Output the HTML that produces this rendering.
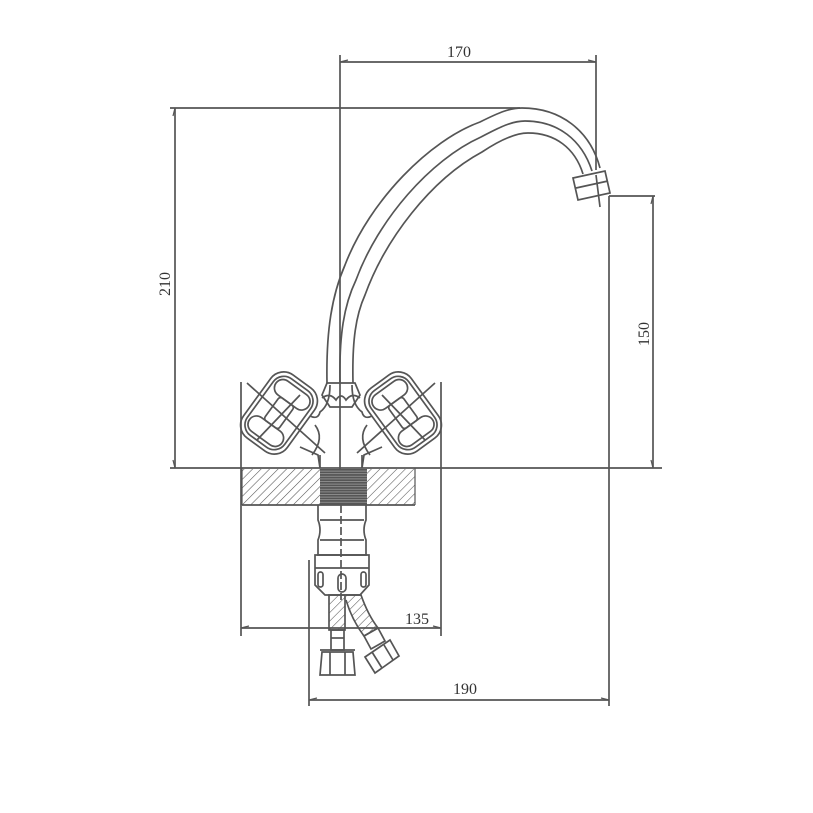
<!DOCTYPE html>
<html><head><meta charset="utf-8"><style>
html,body{margin:0;padding:0;background:#fff;}
svg{display:block;}
text{font-family:"Liberation Serif",serif;font-size:16px;fill:#333;}
</style></head><body>
<svg width="813" height="813" viewBox="0 0 813 813" xmlns="http://www.w3.org/2000/svg">
<defs>
<pattern id="h" width="6" height="6" patternUnits="userSpaceOnUse" patternTransform="rotate(45)">
<line x1="0" y1="0" x2="0" y2="6" stroke="#555" stroke-width="1.1"/>
</pattern>
<pattern id="th" width="4" height="2.6" patternUnits="userSpaceOnUse">
<rect width="4" height="2.6" fill="#555"/><line x1="0" y1="0.5" x2="4" y2="0.5" stroke="#999" stroke-width="0.8"/>
</pattern>
</defs>
<g stroke="#555" stroke-width="1.7" fill="none">
<line x1="340" y1="62" x2="596" y2="62"/>
<line x1="340" y1="55" x2="340" y2="470"/>
<line x1="596" y1="55" x2="596" y2="170"/>
<path d="M596 175 L600 207"/>
<line x1="175" y1="108" x2="175" y2="468"/>
<line x1="170" y1="108" x2="520" y2="108"/>
<line x1="170" y1="468" x2="662" y2="468"/>
<line x1="609" y1="196" x2="655" y2="196"/>
<line x1="653" y1="196" x2="653" y2="468"/>
<line x1="241" y1="628" x2="441" y2="628"/>
<line x1="241" y1="382" x2="241" y2="636"/>
<line x1="441" y1="382" x2="441" y2="636"/>
<line x1="309" y1="700" x2="609" y2="700"/>
<line x1="309" y1="560" x2="309" y2="706"/>
<line x1="609" y1="196" x2="609" y2="706"/>
<path d="M327 383 C326 330 332 295 345 265 C370 200 430 140 480 122 C500 112 510 108 522 108 C560 108 590 130 600 168"/>
<path d="M353 383 C352 340 356 315 365 295 C385 240 430 180 482 152 C500 140 515 133 528 133 C555 133 575 148 583 174"/>
<path d="M340 383 C339 335 344 305 356 280 C378 220 430 160 481 137 C500 127 512 121 525 121 C558 121 582 140 592 171"/>
<polygon points="573,178 605,171 610,193 578,200"/>
<line x1="576" y1="188" x2="608" y2="181"/>
<path d="M327 383 L322 395 L330 407 L352 407 L360 395 L355 383 Z"/>
<path d="M322 398 Q330 392 336 400 Q341 392 346 400 Q352 392 360 398"/>
<g id="hl">
<g transform="translate(279 413) rotate(36)">
<rect x="-27" y="-39" width="54" height="78" rx="16"/>
<rect x="-23" y="-35" width="46" height="70" rx="13"/>
<rect x="-20" y="-31" width="40" height="17" rx="8.5"/>
<rect x="-20" y="14" width="40" height="17" rx="8.5"/>
<rect x="-9" y="-14" width="18" height="28" rx="3"/>
</g>
<line x1="247" y1="383" x2="325" y2="453"/>
<line x1="257" y1="440" x2="300" y2="395"/>
<path d="M310 416 Q318 420 320 412 Q330 405 330 385"/>
<path d="M315 425 Q325 438 312 455"/>
<path d="M300 447 L318 455 L320 468"/>
</g>
<use href="#hl" transform="translate(682 0) scale(-1 1)"/>
<line x1="320" y1="455" x2="320" y2="468"/>
<line x1="362" y1="455" x2="362" y2="468"/>
</g>
<rect x="242" y="469" width="173" height="36" fill="url(#h)" stroke="none"/>
<rect x="320" y="469" width="47" height="36" fill="url(#th)"/>
<line x1="242" y1="505" x2="415" y2="505" stroke="#555" stroke-width="1.7"/>
<line x1="242" y1="468" x2="242" y2="505" stroke="#555" stroke-width="1.2"/>
<line x1="415" y1="468" x2="415" y2="505" stroke="#555" stroke-width="1.2"/>
<g stroke="#555" stroke-width="1.7" fill="none">
<path d="M318 505 L318 520 Q322 530 318 540 L318 555 L366 555 L366 540 Q362 530 366 520 L366 505"/>
<line x1="320" y1="520" x2="364" y2="520"/>
<line x1="320" y1="540" x2="364" y2="540"/>
<path d="M315 555 L315 585 L325 595 L360 595 L369 585 L369 555 Z"/>
<line x1="315" y1="568" x2="369" y2="568"/>
<rect x="318" y="572" width="5" height="15" rx="2.5"/>
<rect x="338" y="574" width="8" height="18" rx="4"/>
<rect x="361" y="572" width="5" height="15" rx="2.5"/>
<line x1="341" y1="505" x2="341" y2="600" stroke-dasharray="8 3"/>
<rect x="329" y="595" width="16" height="35" fill="url(#h)"/>
<path d="M346 595 L361 595 Q368 615 378 628 L364 636 Q352 620 346 600" fill="url(#h)"/>
<rect x="331" y="630" width="13" height="20"/>
<line x1="331" y1="638" x2="344" y2="638"/>
<path d="M322 652 L353 652 L355 675 L320 675 Z"/>
<line x1="330" y1="652" x2="330" y2="675"/><line x1="345" y1="652" x2="345" y2="675"/>
<line x1="320" y1="650" x2="355" y2="650"/>
<path d="M364 636 L378 628 L385 641 L371 649 Z"/>
<path d="M365 657 L390 640 L399 656 L375 673 Z"/>
<line x1="372" y1="652" x2="382" y2="668"/><line x1="384" y1="645" x2="393" y2="660"/>
</g>
<g stroke="#555" stroke-width="1.2">
<line x1="340" y1="62" x2="348" y2="60"/><line x1="596" y1="62" x2="588" y2="60"/>
<line x1="175" y1="108" x2="173" y2="116"/><line x1="175" y1="468" x2="173" y2="460"/>
<line x1="653" y1="196" x2="651" y2="204"/><line x1="653" y1="468" x2="651" y2="460"/>
<line x1="241" y1="628" x2="249" y2="626"/><line x1="441" y1="628" x2="433" y2="626"/>
<line x1="309" y1="700" x2="317" y2="698"/><line x1="609" y1="700" x2="601" y2="698"/>
</g>
<text x="459" y="57" text-anchor="middle">170</text>
<text x="0" y="0" text-anchor="middle" transform="translate(170 284) rotate(-90)">210</text>
<text x="0" y="0" text-anchor="middle" transform="translate(649 334) rotate(-90)">150</text>
<text x="417" y="624" text-anchor="middle">135</text>
<text x="465" y="694" text-anchor="middle">190</text>
</svg>
</body></html>
